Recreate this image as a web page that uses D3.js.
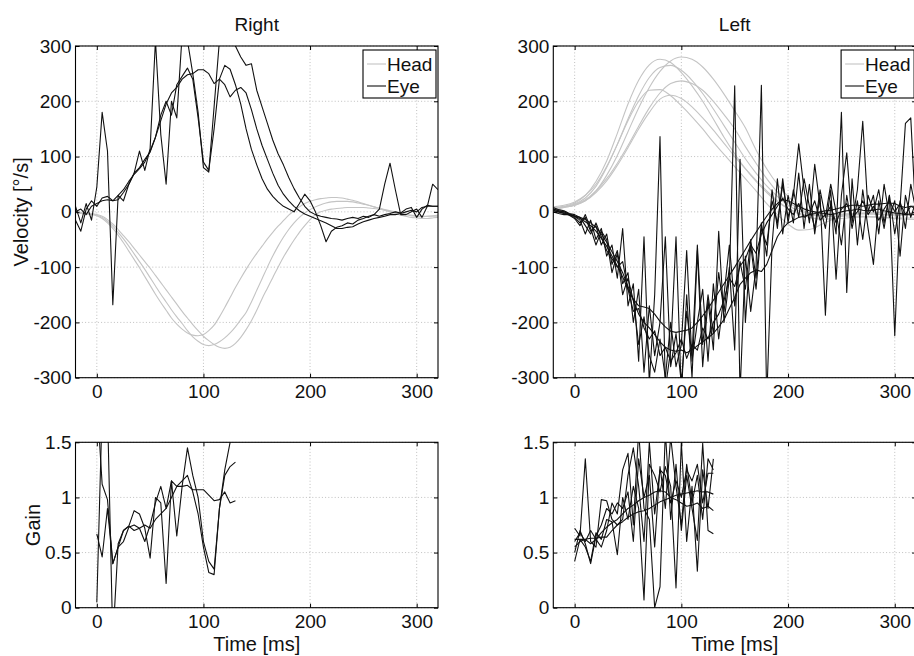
<!DOCTYPE html>
<html><head><meta charset="utf-8">
<script src="https://cdn.jsdelivr.net/npm/d3@7"></script>
<style>
body{margin:0;background:#fff}
svg{display:block}
</style>
</head><body><svg id="c" width="914" height="656"></svg>
<script>
// ---------------- DATA ----------------
const xTicks = [0, 100, 200, 300];
const velTicks = [-300, -200, -100, 0, 100, 200, 300];
const gainTicks = [0, 0.5, 1, 1.5];
const gainTickLabels = ["0", "0.5", "1", "1.5"];

// time base for velocity traces (ms)
const tVel = [-20,-15,-10,-5,0,5,10,15,20,25,30,35,40,45,50,55,60,65,70,75,80,85,90,95,100,105,110,115,120,125,130,135,140,145,150,155,160,165,170,175,180,185,190,195,200,205,210,215,220,225,230,235,240,245,250,255,260,265,270,275,280,285,290,295,300,305,310,315,320];
// time base for "Left" head traces
const tHeadL = [-20,-10,0,10,20,30,40,50,60,70,80,90,100,110,120,130,140,150,160,170,180,190,200,210,220,230,240,250,260,270,280,290,300,310,320];
// time base for gain traces
const tGain = [0,5,10,15,20,25,30,35,40,45,50,55,60,65,70,75,80,85,90,95,100,105,110,115,120,125,130];

// ---- "Right" panel: head velocity ----
const headR1 = [-2,-3,-4,-5,-7,-12,-20,-30,-42,-56,-71,-86,-101,-117,-133,-149,-164,-178,-192,-203,-212,-219,-223,-224,-222,-215,-205,-190,-173,-155,-137,-120,-104,-89,-75,-62,-49,-37,-26,-16,-6,2,9,15,19,22,24,25,26,26,25,23,21,18,15,12,9,6,3,0,-3,-6,-8,-10,-11,-12,-12,-11,-10];
const headR2 = [-1,-2,-3,-4,-6,-10,-17,-26,-37,-49,-62,-76,-90,-104,-119,-134,-149,-163,-177,-190,-202,-215,-226,-234,-240,-242,-240,-235,-228,-219,-208,-195,-182,-163,-142,-121,-100,-80,-62,-46,-32,-20,-10,-2,4,9,13,16,18,19,19,19,18,16,14,12,9,7,4,2,0,-2,-4,-6,-7,-8,-8,-8,-8];
const headR3 = [0,-1,-2,-3,-5,-8,-14,-22,-32,-43,-54,-66,-78,-90,-102,-115,-128,-141,-154,-167,-180,-192,-204,-215,-225,-233,-240,-245,-247,-245,-238,-227,-213,-197,-178,-157,-138,-119,-100,-82,-66,-51,-37,-25,-14,-5,0,3,5,6,7,8,8,8,8,7,6,5,3,1,-1,-3,-5,-7,-8,-9,-8,-7,-6];
// ---- "Right" panel: eye velocity ----
const eyeR1 = [10,-20,15,-15,45,180,110,-168,30,20,50,70,110,75,115,310,140,50,200,170,320,310,250,180,80,72,190,310,320,310,300,280,265,268,220,190,160,130,105,85,62,42,25,10,0,-5,-8,-10,-12,-13,-15,-12,-10,-12,-8,-10,-5,5,50,88,40,-5,-5,0,5,-10,10,50,40];
const eyeR2 = [-15,-35,5,20,10,25,28,20,22,35,50,70,80,95,108,135,175,200,175,230,245,260,240,170,90,75,150,240,265,258,230,195,150,113,85,60,41,28,18,10,5,0,15,32,20,0,-25,-54,-35,-28,-25,-20,-22,-15,-12,-8,-5,-8,-5,-3,0,-2,5,8,-10,5,12,10,10];
const eyeR3 = [0,5,-5,10,15,20,22,20,30,40,55,68,78,90,110,135,165,195,215,225,240,248,250,257,257,250,232,240,230,208,220,225,215,185,150,120,95,70,48,32,20,10,2,-4,-8,-12,-16,-20,-25,-30,-30,-28,-27,-22,-18,-15,-12,-10,-8,-5,-5,-3,0,3,0,8,10,10,10];
// ---- "Right" panel: gain ----
const gainR1 = [0.67,0.46,0.9,0.4,0.55,0.7,0.74,0.7,0.72,0.75,0.72,0.8,0.85,0.9,1.0,1.1,1.1,1.11,1.07,1.07,1.07,1.02,0.97,0.98,1.05,0.95,0.97];
const gainR2 = [1.9,1.12,0.98,0.4,0.55,0.6,0.73,0.75,0.72,0.6,0.75,0.95,1.1,0.9,1.15,1.1,1.15,1.2,1.05,0.85,0.55,0.32,0.3,0.9,1.2,1.28,1.32];
const gainR3 = [0.05,1.8,1.8,-0.3,0.58,0.7,0.74,0.88,0.85,0.72,0.45,1.0,0.95,0.22,1.15,0.65,1.1,1.45,1.2,1.0,0.6,0.42,0.35,0.9,1.25,1.5,1.55];

// ---- "Left" panel: head velocity ----
const headL1 = [7,10,16,30,55,92,142,195,238,266,276,270,252,228,200,168,135,105,78,55,35,18,6,-2,-6,-6,-5,-4,-3,-3,-4,-5,-5,-5,-5];
const headL2 = [6,9,14,25,46,80,122,168,210,243,261,265,256,238,214,186,156,126,96,70,47,28,12,2,-4,-7,-8,-7,-5,-4,-4,-5,-6,-6,-6];
const headL3 = [5,8,12,20,38,66,102,145,188,225,254,273,280,276,262,240,213,183,152,112,78,50,28,12,2,-3,-5,-5,-4,-3,-2,-2,-3,-3,-3];
const headL4 = [6,9,13,22,38,60,88,120,155,188,215,232,237,232,220,200,176,150,118,88,60,36,18,6,-2,-6,-8,-8,-8,-8,-9,-10,-12,-13,-14];
const headL5 = [9,12,18,30,50,82,122,165,200,220,221,210,192,172,150,126,104,82,60,38,15,-5,-22,-33,-32,-24,-15,-8,-4,-2,-1,-1,-2,-2,-2];
const headL6 = [5,8,12,20,35,56,84,116,150,180,204,211,205,190,170,148,124,100,78,57,38,20,6,-4,-10,-13,-13,-12,-10,-9,-9,-10,-11,-11,-11];
// ---- "Left" panel: eye velocity ----
const eyeL1 = [3,0,-3,-5,-8,-12,-18,-25,-35,-48,-62,-80,-98,-118,-140,-158,-170,-172,-175,-185,-198,-208,-216,-218,-216,-214,-210,-200,-188,-175,-160,-145,-130,-115,-100,-84,-68,-52,-37,-22,-8,5,15,22,20,15,10,5,2,0,-2,-3,-5,-3,0,2,3,5,3,2,3,5,2,0,-2,-3,-5,-4,-5];
const eyeL2 = [5,2,0,-4,-7,-10,-14,-20,-28,-40,-55,-72,-90,-110,-135,-160,-185,-200,-210,-222,-235,-245,-250,-252,-250,-255,-250,-242,-235,-228,-220,-208,-195,-175,-155,-131,-120,-110,-105,-108,-95,-70,-45,-30,-20,-15,-10,-8,-5,-3,0,2,3,5,8,10,12,12,10,12,14,14,15,16,15,10,8,10,10];
const eyeL3 = [8,4,2,-3,-5,-10,-25,-40,-20,-45,-70,-85,-100,-90,-140,-180,-175,-210,-230,-215,-260,-245,-270,-255,-230,-265,-240,-250,-210,-230,-200,-185,-160,-120,-135,-98,-85,-60,-75,-40,-20,-5,10,25,5,-5,15,-10,-5,20,-15,-5,10,-20,5,15,-10,0,20,-5,10,-15,5,20,0,15,-5,10,5];
const eyeL4 = [0,-3,-5,-5,-8,-15,-40,-15,-50,-30,-80,-60,-120,-30,-170,-130,-270,-45,-310,-150,136,-320,-250,-45,-330,-150,-300,-70,-280,-160,-250,-35,-200,-120,228,-330,-80,-180,-100,229,-340,-60,60,-40,30,-20,70,-30,50,-40,30,-187,20,-40,180,-146,60,-60,40,-30,-95,20,-30,30,-224,10,160,170,-20];
const eyeL5 = [5,2,0,-5,-10,-20,-10,-35,-25,-60,-40,-95,-70,-130,-110,-200,-140,-290,-170,-260,-200,-45,-280,-220,-310,-180,-260,-60,-240,-150,-220,-110,-180,-100,-250,95,-200,-60,-140,-30,-60,20,-20,50,-10,30,123,40,-20,86,10,-30,40,-122,30,107,-20,40,164,0,30,-40,50,-10,20,-80,30,-10,20];
const eyeL6 = [2,0,-2,-6,-12,-25,-5,-30,-60,-35,-50,-110,-75,-150,-120,-160,-240,-190,-260,-290,-230,-300,-200,-280,-240,-70,-270,-200,-140,-270,-130,-230,-150,-60,-170,-90,-140,-50,-120,-20,-80,40,-30,60,-20,40,-10,60,10,-30,40,-10,50,0,-60,30,-30,20,-50,30,0,40,-20,30,-40,20,-30,50,0];
// ---- "Left" panel: gain ----
const gainL1 = [0.62,0.62,0.62,0.63,0.63,0.64,0.64,0.7,0.75,0.78,0.82,0.85,0.87,0.88,0.9,0.93,0.96,0.98,1.0,1.02,1.03,1.04,1.05,1.06,1.05,1.05,1.03];
const gainL2 = [0.55,0.6,0.62,0.58,0.62,0.68,0.73,0.77,0.8,0.85,0.9,0.93,0.97,1.0,1.02,1.05,1.06,1.05,1.0,0.98,0.95,0.92,0.93,0.95,0.9,0.92,0.88];
const gainL3 = [0.72,0.65,1.35,0.6,0.55,0.98,0.97,0.8,0.75,0.8,1.2,1.45,1.1,0.6,1.5,0.85,1.25,1.2,0.95,1.15,1.0,1.25,1.15,1.3,0.95,1.22,1.22];
const gainL4 = [0.42,0.62,0.55,0.42,0.68,0.62,0.8,0.78,0.48,1.0,0.8,1.1,0.9,0.07,1.3,1.2,1.05,1.28,1.1,0.18,1.5,0.6,1.1,0.33,1.25,0.9,1.35];
const gainL5 = [0.6,0.68,0.6,0.7,0.62,0.55,0.7,0.95,0.85,1.25,1.4,0.75,1.6,0.9,0.8,0.0,0.19,1.6,0.8,1.3,0.7,1.2,0.9,0.61,1.49,0.7,0.67];
const gainL6 = [0.5,0.7,0.58,0.4,0.65,0.75,0.9,0.85,0.95,0.9,1.05,0.6,1.35,1.0,1.2,0.55,1.28,0.9,1.55,1.1,0.75,1.3,0.95,1.2,0.8,1.35,1.25];

// ---------------- DRAWING ----------------
const FONT = '"Liberation Sans", Arial, Helvetica, sans-serif';
const HEAD_COLOR = "#c4c4c4";
const EYE_COLOR = "#111";
const svg = d3.select("#c");
const defs = svg.append("defs");
let clipN = 0;

function panel(o) {
  const x = d3.scaleLinear().domain([-20, 320]).range([o.x0, o.x1]);
  const y = d3.scaleLinear().domain(o.yDom).range([o.y1, o.y0]);
  const g = svg.append("g");
  const id = "clip" + (clipN++);
  defs.append("clipPath").attr("id", id).append("rect")
    .attr("x", o.x0).attr("y", o.y0).attr("width", o.x1 - o.x0).attr("height", o.y1 - o.y0);

  // grid
  const grid = g.append("g").attr("stroke", "#b0b0b0").attr("stroke-width", 0.8).attr("stroke-dasharray", "1,2.2");
  grid.selectAll("line.gx").data(xTicks).join("line").attr("class", "gx")
    .attr("x1", d => x(d)).attr("x2", d => x(d)).attr("y1", o.y0).attr("y2", o.y1);
  grid.selectAll("line.gy").data(o.yTicks).join("line").attr("class", "gy")
    .attr("y1", d => y(d)).attr("y2", d => y(d)).attr("x1", o.x0).attr("x2", o.x1);

  const plot = g.append("g").attr("clip-path", `url(#${id})`).attr("fill", "none");
  const lineLin = (T) => d3.line().x((d, i) => x(T[i])).y(d => y(d));
  (o.heads || []).forEach(s => {
    plot.append("path").attr("d", lineLin(o.headT).curve(d3.curveMonotoneX)(s))
      .attr("stroke", HEAD_COLOR).attr("stroke-width", 1.1);
  });
  (o.eyes || []).forEach(s => {
    plot.append("path").attr("d", lineLin(o.eyeT)(s))
      .attr("stroke", EYE_COLOR).attr("stroke-width", 1.1).attr("stroke-linejoin", "round");
  });

  // axes
  const styleAx = sel => {
    sel.select(".domain").remove();
    sel.selectAll(".tick line").attr("stroke", "#000").attr("stroke-width", 1);
    sel.selectAll(".tick text").attr("fill", "#111").attr("font-family", FONT).attr("font-size", 19);
  };
  g.append("g").attr("transform", `translate(0,${o.y1})`)
    .call(d3.axisBottom(x).tickValues(xTicks).tickSize(-4).tickPadding(7).tickFormat(d3.format("d"))).call(styleAx);
  g.append("g").attr("transform", `translate(0,${o.y0})`)
    .call(d3.axisTop(x).tickValues(xTicks).tickSize(-4).tickFormat("")).call(styleAx);
  g.append("g").attr("transform", `translate(${o.x0},0)`)
    .call(d3.axisLeft(y).tickValues(o.yTicks).tickSize(-4).tickPadding(4)
      .tickFormat((d, i) => o.yLabels[i])).call(styleAx);
  g.append("g").attr("transform", `translate(${o.x1},0)`)
    .call(d3.axisRight(y).tickValues(o.yTicks).tickSize(-4).tickFormat("")).call(styleAx);

  g.append("rect").attr("x", o.x0).attr("y", o.y0).attr("width", o.x1 - o.x0).attr("height", o.y1 - o.y0)
    .attr("fill", "none").attr("stroke", "#000").attr("stroke-width", 1.1);

  const txt = (xx, yy, s, size) => g.append("text").attr("x", xx).attr("y", yy).text(s)
    .attr("font-family", FONT).attr("font-size", size).attr("fill", "#111").attr("text-anchor", "middle");
  if (o.title) txt((o.x0 + o.x1) / 2, 31, o.title, 19);
  if (o.xLabel) txt((o.x0 + o.x1) / 2, 651, o.xLabel, 20);
  if (o.yLabel) {
    g.append("text").attr("transform", `translate(${o.yLabelX},${(o.y0 + o.y1) / 2}) rotate(-90)`)
      .attr("dy", "0.35em").attr("text-anchor", "middle").text(o.yLabel)
      .attr("font-family", FONT).attr("font-size", 20).attr("fill", "#111");
  }
  if (o.legend) {
    const lx = o.x1 - 75, ly = 50;
    const lg = g.append("g");
    lg.append("rect").attr("x", lx).attr("y", ly).attr("width", 73).attr("height", 48)
      .attr("fill", "#fff").attr("stroke", "#000").attr("stroke-width", 1.1);
    [["Head", HEAD_COLOR, 14], ["Eye", EYE_COLOR, 36]].forEach(([lab, col, dy]) => {
      lg.append("line").attr("x1", lx + 4).attr("x2", lx + 23).attr("y1", ly + dy).attr("y2", ly + dy)
        .attr("stroke", col).attr("stroke-width", 1.1);
      lg.append("text").attr("x", lx + 24).attr("y", ly + dy + 7).text(lab)
        .attr("font-family", FONT).attr("font-size", 19).attr("fill", "#111");
    });
  }
}

const LX0 = 75.5, LX1 = 438, RX0 = 553.3, RX1 = 916.1;
const VY0 = 46, VY1 = 377.7, GY0 = 442.3, GY1 = 607.7;
const velLabels = velTicks.map(String);

panel({ x0: LX0, x1: LX1, y0: VY0, y1: VY1, yDom: [-300, 300], yTicks: velTicks, yLabels: velLabels,
  title: "Right", yLabel: "Velocity [°/s]", yLabelX: 20.5, legend: true,
  headT: tVel, heads: [headR1, headR2, headR3], eyeT: tVel, eyes: [eyeR1, eyeR2, eyeR3] });
panel({ x0: LX0, x1: LX1, y0: GY0, y1: GY1, yDom: [0, 1.5], yTicks: gainTicks, yLabels: gainTickLabels,
  xLabel: "Time [ms]", yLabel: "Gain", yLabelX: 32.5,
  eyeT: tGain, eyes: [gainR1, gainR2, gainR3] });
panel({ x0: RX0, x1: RX1, y0: VY0, y1: VY1, yDom: [-300, 300], yTicks: velTicks, yLabels: velLabels,
  title: "Left", legend: true,
  headT: tHeadL, heads: [headL1, headL2, headL3, headL4, headL5, headL6],
  eyeT: tVel, eyes: [eyeL1, eyeL2, eyeL3, eyeL4, eyeL5, eyeL6] });
panel({ x0: RX0, x1: RX1, y0: GY0, y1: GY1, yDom: [0, 1.5], yTicks: gainTicks, yLabels: gainTickLabels,
  xLabel: "Time [ms]",
  eyeT: tGain, eyes: [gainL1, gainL2, gainL3, gainL4, gainL5, gainL6] });
</script>
</body></html>
